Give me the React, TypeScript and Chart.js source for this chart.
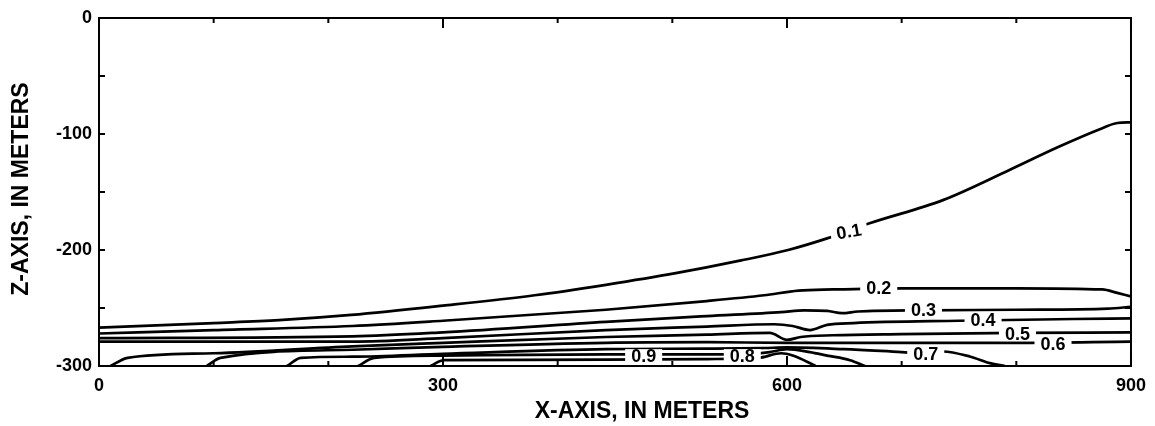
import React, { useEffect, useRef } from "react";
import { Chart, registerables } from "chart.js";

Chart.register(...registerables);

// Contour lines of the section: [x (m), z (m)] pairs for each level
const level01: [number, number][] = [
  [0, -267], [100, -263], [157, -260.5], [220, -256], [300, -248], [380, -239],
  [442, -230], [503, -220], [560, -209], [601, -200], [635, -190], [672, -177],
  [736, -157], [794, -131], [837, -111], [875, -95], [888, -90.5], [900, -90],
];
const level02: [number, number][] = [
  [0, -272], [100, -269], [221, -265.5], [300, -261], [442, -251.5], [530, -244],
  [580, -239], [610, -235], [640, -234], [700, -233], [800, -233], [875, -234],
  [888, -237], [900, -240],
];
const level03: [number, number][] = [
  [0, -276], [221, -274.5], [300, -271], [442, -262], [530, -257], [595, -253.5],
  [615, -252], [635, -252.5], [648, -254.5], [662, -253], [720, -252], [800, -251.5],
  [880, -250.5], [900, -249],
];
const level04: [number, number][] = [
  [0, -279], [221, -279], [300, -276], [442, -269], [530, -266], [589, -264],
  [605, -265.5], [620, -269], [635, -264.5], [658, -263], [750, -261], [850, -259.5],
  [900, -259],
];
const level05: [number, number][] = [
  [10, -300], [25, -293], [100, -289], [221, -283], [300, -280], [442, -275],
  [530, -273], [585, -271.5], [600, -277.5], [612, -275], [640, -273.5], [700, -272.5],
  [800, -271.5], [900, -271],
];
const level06: [number, number][] = [
  [94, -300], [106, -293], [221, -286], [300, -283.5], [442, -280], [530, -279.5],
  [600, -280], [700, -280], [800, -280], [900, -279],
];
const level07: [number, number][] = [
  [164, -300], [176, -293], [221, -292], [300, -289.5], [442, -285.5], [530, -285],
  [580, -284.5], [600, -284], [650, -285.5], [700, -288], [721, -289], [736, -287.5],
  [760, -292], [777, -297.5], [790, -300],
];
const level08: [number, number][] = [
  [226, -300], [240, -293], [298, -291], [442, -290], [530, -290], [561, -290],
  [585, -288], [600, -285.5], [620, -288], [635, -291], [655, -295], [668, -300],
];
const level09: [number, number][] = [
  [289, -300], [301, -295], [442, -294.5], [530, -294], [575, -293], [595, -289],
  [605, -291], [625, -300],
];

const contourLines = [level01, level02, level03, level04, level05, level06, level07, level08, level09];

// Inline contour labels
const labelText = ["0.1", "0.2", "0.3", "0.4", "0.5", "0.6", "0.7", "0.8", "0.9"];
const labelX = [654, 680, 719, 771, 801, 832, 721, 561, 475];
const labelZ = [-184, -233, -252, -260, -272.5, -281, -289.5, -291.5, -291.5];
const labelAngle = [-10, 0, 0, 0, 0, 0, 0, 0, 0];

const xMin = 0;
const xMax = 900;
const zMin = -300;
const zMax = 0;
const xLabelStep = 300;
const xMinorStep = 100;
const zLabelStep = 100;
const zMinorStep = 50;

const xTitle = "X-AXIS, IN METERS";
const zTitle = "Z-AXIS, IN METERS";

const FONT = "'Liberation Sans', Arial, sans-serif";

const framePlugin = {
  id: "contourFrame",
  afterDatasetsDraw(chart: any) {
    const { ctx, chartArea, scales } = chart;
    const xs = scales.x;
    const ys = scales.y;

    // contour labels on white patches that break the lines
    ctx.save();
    ctx.font = `bold 18px ${FONT}`;
    ctx.textAlign = "center";
    ctx.textBaseline = "middle";
    labelText.forEach((t, i) => {
      const px = xs.getPixelForValue(labelX[i]);
      const py = ys.getPixelForValue(labelZ[i]);
      const w = ctx.measureText(t).width + 12;
      ctx.save();
      ctx.translate(px, py);
      ctx.rotate((labelAngle[i] * Math.PI) / 180);
      ctx.fillStyle = "#ffffff";
      ctx.fillRect(-w / 2, -7, w, 14);
      ctx.fillStyle = "#000000";
      ctx.fillText(t, 0, 1);
      ctx.restore();
    });
    ctx.restore();

    // frame and inward tick marks on all four sides
    ctx.save();
    ctx.strokeStyle = "#000000";
    ctx.lineWidth = 2;
    ctx.strokeRect(chartArea.left, chartArea.top, chartArea.right - chartArea.left, chartArea.bottom - chartArea.top);
    ctx.beginPath();
    for (let v = xMin; v <= xMax; v += xMinorStep) {
      const px = xs.getPixelForValue(v);
      const len = v % xLabelStep === 0 ? 10 : 5;
      ctx.moveTo(px, chartArea.bottom);
      ctx.lineTo(px, chartArea.bottom - len);
      ctx.moveTo(px, chartArea.top);
      ctx.lineTo(px, chartArea.top + len);
    }
    for (let v = zMin; v <= zMax; v += zMinorStep) {
      const py = ys.getPixelForValue(v);
      const len = 6;
      ctx.moveTo(chartArea.left, py);
      ctx.lineTo(chartArea.left + len, py);
      ctx.moveTo(chartArea.right, py);
      ctx.lineTo(chartArea.right - len, py);
    }
    ctx.stroke();

    // axis titles
    ctx.fillStyle = "#000000";
    ctx.font = `bold 23px ${FONT}`;
    ctx.textAlign = "center";
    ctx.textBaseline = "middle";
    ctx.fillText(xTitle, 642, 412);
    ctx.translate(22, (chartArea.top + chartArea.bottom) / 2 - 3);
    ctx.rotate(-Math.PI / 2);
    ctx.fillText(zTitle, 0, 0);
    ctx.restore();
  },
};

export default function App() {
  const canvasRef = useRef<HTMLCanvasElement | null>(null);

  useEffect(() => {
    const canvas = canvasRef.current;
    if (!canvas) return;
    const chart = new Chart(canvas, {
      type: "line",
      data: {
        datasets: contourLines.map((pts, i) => ({
          label: labelText[i],
          data: pts.map(([x, z]) => ({ x, y: z })),
          borderColor: "#000000",
          borderWidth: 2.7,
          pointRadius: 0,
          fill: false,
          cubicInterpolationMode: "monotone" as const,
        })),
      },
      options: {
        animation: false,
        responsive: false,
        devicePixelRatio: 1,
        layout: { padding: { top: 18, right: 16, left: 0, bottom: 0 } },
        plugins: {
          legend: { display: false },
          tooltip: { enabled: false },
        },
        scales: {
          x: {
            type: "linear",
            min: xMin,
            max: xMax,
            grid: { display: false, drawTicks: false },
            border: { display: false },
            ticks: {
              stepSize: xLabelStep,
              color: "#000000",
              font: { family: FONT, size: 18, weight: "bold" },
              padding: 9,
              maxRotation: 0,
            },
            afterFit: (scale: any) => {
              scale.height = 60;
            },
          },
          y: {
            type: "linear",
            min: zMin,
            max: zMax,
            grid: { display: false, drawTicks: false },
            border: { display: false },
            ticks: {
              stepSize: zLabelStep,
              color: "#000000",
              font: { family: FONT, size: 18, weight: "bold" },
              padding: 7,
            },
            afterFit: (scale: any) => {
              scale.width = 99;
            },
          },
        },
      },
      plugins: [framePlugin],
    });
    return () => chart.destroy();
  }, []);

  return (
    <div style={{ position: "fixed", left: 0, top: 0, width: 1155, height: 426, background: "#ffffff" }}>
      <canvas ref={canvasRef} width={1155} height={426} style={{ display: "block" }} />
    </div>
  );
}
